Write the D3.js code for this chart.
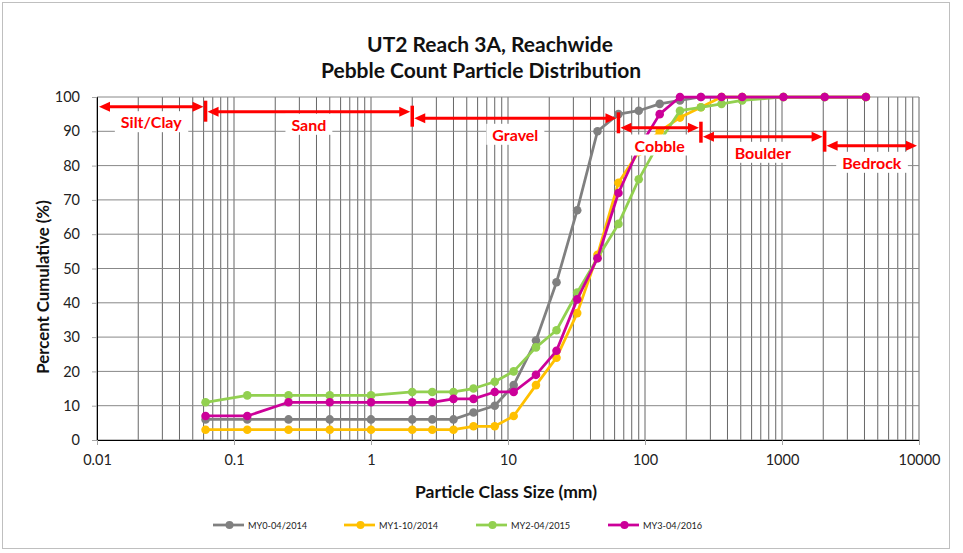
<!DOCTYPE html>
<html>
<head>
<meta charset="utf-8">
<script src="https://cdn.jsdelivr.net/npm/d3@7/dist/d3.min.js"></script>
<style>
  html, body { margin: 0; padding: 0; background: #fff; }
  svg { display: block; }
  text { font-family: Lato, "Open Sans", "Liberation Sans", sans-serif; }
</style>
</head>
<body>
<svg id="chart" width="963" height="553"></svg>
<script>
// Particle class sizes (mm) used by the pebble count
const sizes = [0.062, 0.125, 0.25, 0.5, 1, 2, 2.8, 4, 5.6, 8, 11, 16, 22.6, 32, 45, 64, 90, 128, 180, 256, 362, 512, 1024, 2048, 4096];

// Percent cumulative for each monitoring year
const my0 = [6, 6, 6, 6, 6, 6, 6, 6, 8, 10, 16, 29, 46, 67, 90, 95, 96, 98, 99, 100, 100, 100, 100, 100, 100];
const my1 = [3, 3, 3, 3, 3, 3, 3, 3, 4, 4, 7, 16, 24, 37, 54, 75, 84, 90, 94, 97, 100, 100, 100, 100, 100];
const my2 = [11, 13, 13, 13, 13, 14, 14, 14, 15, 17, 20, 27, 32, 43, 53, 63, 76, 87, 96, 97, 98, 99, 100, 100, 100];
const my3 = [7, 7, 11, 11, 11, 11, 11, 12, 12, 14, 14, 19, 26, 41, 53, 72, 85, 95, 100, 100, 100, 100, 100, 100, 100];

const seriesNames = ["MY0-04/2014", "MY1-10/2014", "MY2-04/2015", "MY3-04/2016"];
const seriesColors = ["#808080", "#FFC000", "#92D050", "#CC0099"];

// Size classes and their boundaries (mm)
const classNames = ["Silt/Clay", "Sand", "Gravel", "Cobble", "Boulder", "Bedrock"];
const classBounds = [0.01, 0.062, 2, 64, 256, 2048, 10000];

// Axis ticks
const xTicks = [0.01, 0.1, 1, 10, 100, 1000, 10000];
const xTickLabels = ["0.01", "0.1", "1", "10", "100", "1000", "10000"];
const yTicks = [0, 10, 20, 30, 40, 50, 60, 70, 80, 90, 100];

const titleLines = ["UT2 Reach 3A, Reachwide", "Pebble Count Particle Distribution"];
const xTitle = "Particle Class Size (mm)";
const yTitle = "Percent Cumulative (%)";

// ---- layout ----
const W = 963, H = 553;
const plot = { left: 97, right: 919, top: 97, bottom: 440 };

const svg = d3.select("#chart");

// chart frame
svg.append("rect")
  .attr("x", 2.5).attr("y", 2.5).attr("width", 947).attr("height", 546)
  .attr("fill", "#fff").attr("stroke", "#bfbfbf").attr("stroke-width", 1);

const x = d3.scaleLog().domain([0.01, 10000]).range([plot.left, plot.right]);
const y = d3.scaleLinear().domain([0, 100]).range([plot.bottom, plot.top]);

// vertical gridlines: every 1..9 step within each decade
const xGrid = [];
for (let e = -2; e < 4; e++) {
  for (let m = 1; m < 10; m++) xGrid.push(m * Math.pow(10, e));
}
xGrid.push(10000);

const grid = svg.append("g");
grid.selectAll("line.vx").data(xGrid).join("line")
  .attr("x1", d => x(d)).attr("x2", d => x(d))
  .attr("y1", plot.top).attr("y2", plot.bottom)
  .attr("stroke", "#666").attr("stroke-width", 1);

grid.selectAll("line.hy").data(yTicks).join("line")
  .attr("x1", plot.left).attr("x2", plot.right)
  .attr("y1", d => y(d)).attr("y2", d => y(d))
  .attr("stroke", "#888").attr("stroke-width", 1);

// y axis
const yAxis = d3.axisLeft(y).tickValues(yTicks).tickSize(5).tickPadding(12);
const gy = svg.append("g").attr("transform", `translate(${plot.left},0)`).call(yAxis);
gy.select(".domain").attr("stroke", "#000");
gy.selectAll(".tick line").attr("stroke", "#a6a6a6");
gy.selectAll(".tick text").attr("font-size", 14.5).attr("fill", "#222")
  .attr("font-family", "Lato, 'Open Sans', sans-serif");

// x axis
const xAxis = d3.axisBottom(x).tickValues(xTicks)
  .tickFormat((d, i) => xTickLabels[i]).tickSize(5).tickPadding(10);
const gx = svg.append("g").attr("transform", `translate(0,${plot.bottom})`).call(xAxis);
gx.select(".domain").attr("stroke", "#000");
gx.selectAll(".tick line").attr("stroke", "#a6a6a6");
gx.selectAll(".tick text").attr("font-size", 14.5).attr("fill", "#222")
  .attr("font-family", "Lato, 'Open Sans', sans-serif");

// series
const allSeries = [my0, my1, my2, my3];
const line = d3.line().x(d => x(d[0])).y(d => y(d[1]));
allSeries.forEach((vals, i) => {
  const pts = sizes.map((s, j) => [s, vals[j]]);
  const g = svg.append("g");
  g.append("path").datum(pts).attr("d", line)
    .attr("fill", "none").attr("stroke", seriesColors[i])
    .attr("stroke-width", 2.75).attr("stroke-linejoin", "round");
  g.selectAll("circle").data(pts).join("circle")
    .attr("cx", d => x(d[0])).attr("cy", d => y(d[1])).attr("r", 4.3)
    .attr("fill", seriesColors[i]);
});

// size-class arrows
const red = "#FF0000";
const arrowY = [106.7, 111.7, 118.3, 127.7, 136.7, 145.7];
const labelDy = [15, 12.6, 16, 17.3, 15.6, 16.6];
const ann = svg.append("g");

function head(xTip, yy, dir) {
  const len = 11, half = 5;
  ann.append("path")
    .attr("d", `M${xTip},${yy} L${xTip - dir * len},${yy - half} L${xTip - dir * len},${yy + half} Z`)
    .attr("fill", red);
}

classNames.forEach((name, i) => {
  const x0 = x(classBounds[i]), x1 = x(classBounds[i + 1]);
  const yy = arrowY[i];
  const a = x0 + 2, b = x1 - 2;
  ann.append("line")
    .attr("x1", a + 6).attr("x2", b - 6).attr("y1", yy).attr("y2", yy)
    .attr("stroke", red).attr("stroke-width", 3);
  head(a, yy, -1);
  head(b, yy, 1);
  if (i < classNames.length - 1) {
    ann.append("line")
      .attr("x1", x1).attr("x2", x1).attr("y1", yy - 6).attr("y2", yy + 15)
      .attr("stroke", red).attr("stroke-width", 3.5);
  }
  // label with white box
  const cx = (x0 + x1) / 2, cy = yy + labelDy[i];
  const t = ann.append("text")
    .attr("x", cx).attr("y", cy).attr("text-anchor", "middle")
    .attr("dominant-baseline", "central")
    .attr("font-family", "'Liberation Sans', Arial, sans-serif")
    .attr("font-weight", "bold").attr("font-size", 16).attr("fill", red)
    .text(name);
  const bb = t.node().getBBox();
  ann.insert("rect", () => t.node())
    .attr("x", bb.x - 6).attr("y", bb.y - 1).attr("width", bb.width + 12).attr("height", bb.height + 2)
    .attr("fill", "#fff");
});

// titles
const tt = svg.append("text").attr("text-anchor", "middle")
  .attr("font-weight", "bold").attr("font-size", 21).attr("fill", "#111");
tt.append("tspan").attr("x", 490).attr("y", 52).text(titleLines[0]);
tt.append("tspan").attr("x", 481).attr("y", 78).text(titleLines[1]);

svg.append("text").attr("x", 506).attr("y", 498).attr("text-anchor", "middle")
  .attr("font-weight", "bold").attr("font-size", 17.5).attr("fill", "#111").text(xTitle);

svg.append("text").attr("transform", "translate(49,287) rotate(-90)")
  .attr("text-anchor", "middle").attr("font-weight", "bold").attr("font-size", 16.8)
  .attr("fill", "#111").text(yTitle);

// legend
const legendX = [213, 344, 476, 608];
const legendY = 525;
const lg = svg.append("g");
seriesNames.forEach((n, i) => {
  const lx = legendX[i];
  lg.append("line").attr("x1", lx).attr("x2", lx + 31).attr("y1", legendY).attr("y2", legendY)
    .attr("stroke", seriesColors[i]).attr("stroke-width", 2.75);
  lg.append("circle").attr("cx", lx + 16.5).attr("cy", legendY).attr("r", 4)
    .attr("fill", seriesColors[i]);
  lg.append("text").attr("x", lx + 35).attr("y", legendY).attr("dominant-baseline", "central")
    .attr("font-size", 9.2).attr("fill", "#222").text(n);
});
</script>
</body>
</html>
